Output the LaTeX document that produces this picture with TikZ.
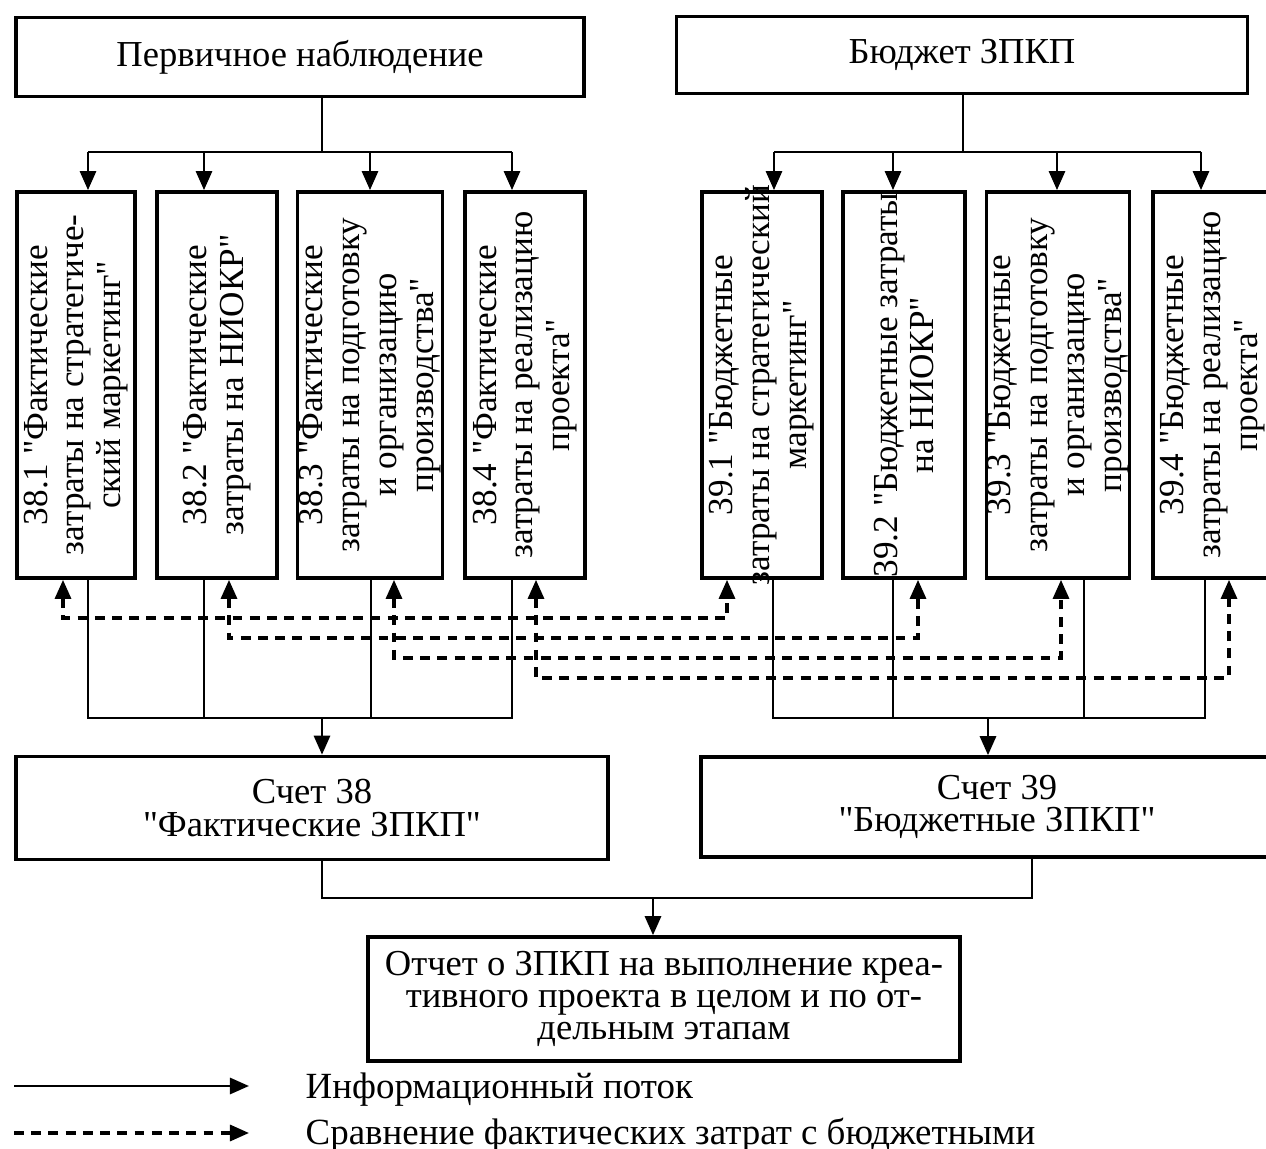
\documentclass[tikz,border=0pt]{standalone}
\usepackage{fontspec}
\setmainfont{Liberation Serif}[Ligatures=TeXOff]
\usetikzlibrary{arrows.meta,positioning}

\begin{document}
\begin{tikzpicture}[x=0.01cm, y=-0.01cm,
  hbox/.style={draw, line width=1pt, align=center, inner sep=0pt,
    font=\fontsize{10.4}{9.2}\selectfont},
  colbox/.style={draw, line width=1pt, minimum height=3.86cm, inner sep=0pt},
  vtext/.style={rotate=90, align=center, inner sep=0pt,
    font=\fontsize{10}{10.5}\selectfont},
  flow/.style={line width=0.8pt},
  arr/.style={-{Triangle[length=1.9mm,width=1.6mm]}, line width=0.8pt},
  dsh/.style={line width=0.9pt, dash pattern=on 2.8pt off 2.1pt},
  cmp/.style={dsh, {Triangle[length=1.9mm,width=1.6mm]}-{Triangle[length=1.9mm,width=1.6mm]}}]
\clip (0,0) rectangle (1266,1149);
% Top boxes
\node[hbox, minimum width=5.68cm, minimum height=0.79cm] (perv) at (300,57)
  {Первичное наблюдение};
\node[hbox, minimum width=5.71cm, minimum height=0.77cm] (budg) at (962,55)
  {Бюджет ЗПКП};
% Actual cost sub-accounts
\node[colbox, minimum width=1.18cm] (f1) at (76,385) {};
\node[vtext] (f1t) at (f1) {38.1 "Фактические\\затраты на стратегиче-\\ский маркетинг"};
\node[colbox, minimum width=1.20cm] (f2) at (217,385) {};
\node[vtext] (f2t) at (f2) {38.2 "Фактические\\затраты на НИОКР"};
\node[colbox, minimum width=1.45cm] (f3) at (370,385) {};
\node[vtext] (f3t) at (f3) {38.3 "Фактические\\затраты на подготовку\\и организацию\\производства"};
\node[colbox, minimum width=1.20cm] (f4) at (525,385) {};
\node[vtext] (f4t) at (f4) {38.4 "Фактические\\затраты на реализацию\\проекта"};
% Budget sub-accounts
\node[colbox, minimum width=1.20cm] (b1) at (762,385) {};
\node[vtext] (b1t) at (b1) {39.1 "Бюджетные\\затраты на стратегический\\маркетинг"};
\node[colbox, minimum width=1.22cm] (b2) at (904,385) {};
\node[vtext] (b2t) at (b2) {39.2 "Бюджетные затраты\\на НИОКР"};
\node[colbox, minimum width=1.43cm] (b3) at (1058,385) {};
\node[vtext] (b3t) at (b3) {39.3 "Бюджетные\\затраты на подготовку\\и организацию\\производства"};
\node[colbox, minimum width=1.20cm] (b4) at (1213,385) {};
\node[vtext] (b4t) at (b4) {39.4 "Бюджетные\\затраты на реализацию\\проекта"};
% Accounts and report
\node[hbox, minimum width=5.92cm, minimum height=1.03cm] (acc38) at (312,808)
  {Счет 38\\"Фактические ЗПКП"};
\node[hbox, minimum width=5.92cm, minimum height=1.00cm] (acc39) at (997,807)
  {Счет 39\\"Бюджетные ЗПКП"};
\node[hbox, minimum width=5.92cm, minimum height=1.24cm] (rep) at (664,999)
  {Отчет о ЗПКП на выполнение креа-\\тивного проекта в целом и по от-\\дельным этапам};
% Branching points
\coordinate (pj) at (322,152);
\coordinate (pa1) at (88,152);  \coordinate (pa4) at (512,152);
\coordinate (pa2) at (204,152); \coordinate (pa3) at (370,152);
\coordinate (bj) at (963,152);
\coordinate (pb1) at (774,152); \coordinate (pb4) at (1201,152);
\coordinate (pb2) at (893,152); \coordinate (pb3) at (1057,152);
\coordinate (qj) at (322,718);
\coordinate (qa1) at (88,718);  \coordinate (qa4) at (512,718);
\coordinate (qa2) at (204,718); \coordinate (qa3) at (371,718);
\coordinate (qbj) at (988,718);
\coordinate (qb1) at (773,718); \coordinate (qb4) at (1205,718);
\coordinate (qb2) at (893,718); \coordinate (qb3) at (1084,718);
% Top distribution
\draw[flow] (perv.south -| pj) -- (pj);
\draw[flow] (pa1) -- (pa4);
\draw[arr] (pa1) -- (pa1 |- f1.north);
\draw[arr] (pa2) -- (pa2 |- f2.north);
\draw[arr] (pa3) -- (pa3 |- f3.north);
\draw[arr] (pa4) -- (pa4 |- f4.north);
\draw[flow] (budg.south -| bj) -- (bj);
\draw[flow] (pb1) -- (pb4);
\draw[arr] (pb1) -- (pb1 |- b1.north);
\draw[arr] (pb2) -- (pb2 |- b2.north);
\draw[arr] (pb3) -- (pb3 |- b3.north);
\draw[arr] (pb4) -- (pb4 |- b4.north);
% Collection into accounts
\draw[flow] (qa1 |- f1.south) -- (qa1) -- (qa4) -- (qa4 |- f4.south);
\draw[flow] (qa2 |- f2.south) -- (qa2);
\draw[flow] (qa3 |- f3.south) -- (qa3);
\draw[arr] (qj) -- (qj |- acc38.north);
\draw[flow] (qb1 |- b1.south) -- (qb1) -- (qb4) -- (qb4 |- b4.south);
\draw[flow] (qb2 |- b2.south) -- (qb2);
\draw[flow] (qb3 |- b3.south) -- (qb3);
\draw[arr] (qbj) -- (qbj |- acc39.north);
% Comparison (dashed)
\coordinate (dl1) at (63,618);  \coordinate (dr1) at (727,618);
\coordinate (dl2) at (229,638); \coordinate (dr2) at (918,638);
\coordinate (dl3) at (394,658); \coordinate (dr3) at (1061,658);
\coordinate (dl4) at (536,678); \coordinate (dr4) at (1229,678);
\draw[cmp] (dl1 |- f1.south) -- (dl1) -- (dr1) -- (dr1 |- b1.south);
\draw[cmp] (dl2 |- f2.south) -- (dl2) -- (dr2) -- (dr2 |- b2.south);
\draw[cmp] (dl3 |- f3.south) -- (dl3) -- (dr3) -- (dr3 |- b3.south);
\draw[cmp] (dl4 |- f4.south) -- (dl4) -- (dr4) -- (dr4 |- b4.south);
% Report
\coordinate (ra) at (322,898); \coordinate (rb) at (1032,898);
\coordinate (rj) at (653,898);
\draw[flow] (acc38.south -| ra) -- (ra) -- (rb) -- (acc39.south -| rb);
\draw[arr] (rj) -- (rj |- rep.north);
% Legend
\coordinate (la) at (14,1086); \coordinate (lb) at (249,1086);
\coordinate (lc) at (14,1133); \coordinate (ld) at (249,1133);
\draw[arr] (la) -- (lb);
\draw[dsh, -{Triangle[length=1.9mm,width=1.6mm]}] (lc) -- (ld);
\node[anchor=west, inner sep=0pt, font=\fontsize{10.5}{11}\selectfont] (lt1) at (305,1090)
  {Информационный поток};
\node[anchor=west, inner sep=0pt, font=\fontsize{10.5}{11}\selectfont] (lt2) at (305,1135)
  {Сравнение фактических затрат с бюджетными};
\end{tikzpicture}
\end{document}
